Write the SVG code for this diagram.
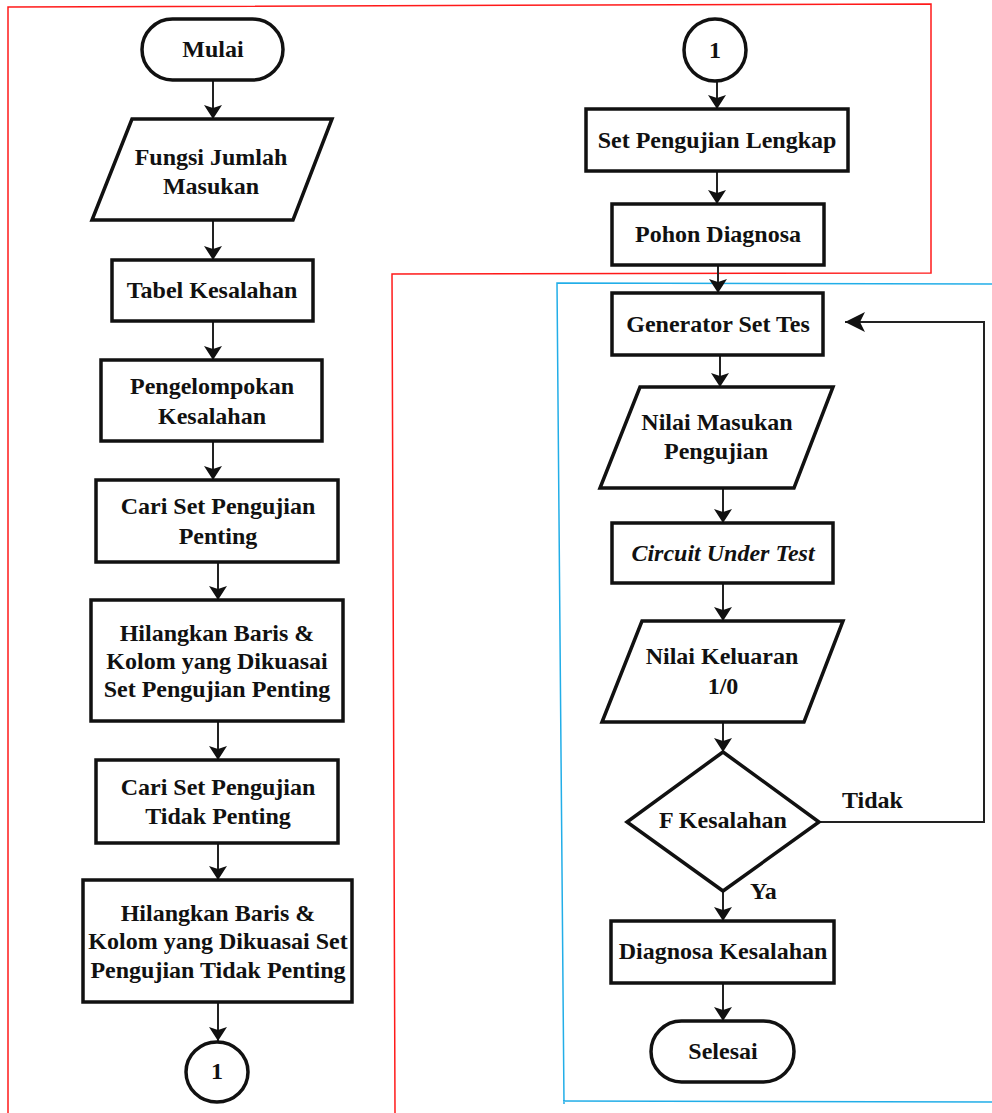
<svg xmlns="http://www.w3.org/2000/svg" width="992" height="1113" viewBox="0 0 992 1113">
  <style>
    .shape { fill: #fff; stroke: #111; stroke-width: 3.5; stroke-linejoin: miter; }
    .lbl { font-family: "Liberation Serif", "DejaVu Serif", serif; font-weight: 700; font-size: 24px; fill: #111; text-anchor: middle; }
    .it { font-style: italic; }
    .start { text-anchor: start; }
    .link { fill: none; stroke: #222; stroke-width: 2; }
    .frame { fill: none; stroke-width: 1.5; }
  </style>
  <defs>
    <marker id="arrow" markerUnits="userSpaceOnUse" viewBox="0 0 14 18" refX="14" refY="9" markerWidth="14" markerHeight="18" orient="auto">
      <path d="M0,0 L14,9 L0,18 L3,9 z" fill="#111"/>
    </marker>
    <marker id="arrowBig" markerUnits="userSpaceOnUse" viewBox="0 0 20 20" refX="20" refY="10" markerWidth="20" markerHeight="20" orient="auto">
      <path d="M0,0 L20,10 L0,20 L5,10 z" fill="#111"/>
    </marker>
  </defs>

  <rect width="992" height="1113" fill="#fff"/>

  <!-- section frames -->
  <g id="frames">
    <path class="frame" stroke="#ff1a1a" d="M8,1113 V7 L931,4 V273 L392,274 L395,1113"/>
    <path class="frame" stroke="#22aee8" d="M992,284 L557,283 L564,1104 M563,1101 L992,1102"/>
  </g>

  <!-- connectors -->
  <g id="connectors">
    <path class="link" marker-end="url(#arrow)" d="M213,80 V119"/>
    <path class="link" marker-end="url(#arrow)" d="M213,220 V260"/>
    <path class="link" marker-end="url(#arrow)" d="M213,321 V360"/>
    <path class="link" marker-end="url(#arrow)" d="M213,441 V480"/>
    <path class="link" marker-end="url(#arrow)" d="M218,562 V600"/>
    <path class="link" marker-end="url(#arrow)" d="M218,721 V760"/>
    <path class="link" marker-end="url(#arrow)" d="M218,843 V880"/>
    <path class="link" marker-end="url(#arrow)" d="M218,1002 V1041"/>
    <path class="link" marker-end="url(#arrow)" d="M717,81 V109"/>
    <path class="link" marker-end="url(#arrow)" d="M717,171 V204"/>
    <path class="link" marker-end="url(#arrow)" d="M718,265 V293"/>
    <path class="link" marker-end="url(#arrow)" d="M720,355 V387"/>
    <path class="link" marker-end="url(#arrow)" d="M723,488 V523"/>
    <path class="link" marker-end="url(#arrow)" d="M723,583 V621"/>
    <path class="link" marker-end="url(#arrow)" d="M723,722 V752"/>
    <path class="link" marker-end="url(#arrow)" d="M723,891 V921"/>
    <path class="link" marker-end="url(#arrow)" d="M723,983 V1021"/>
    <path class="link" marker-end="url(#arrowBig)" d="M819,822 H984 V322 H845"/>
    <text class="lbl start" x="842" y="808">Tidak</text>
    <text class="lbl start" x="750" y="899">Ya</text>
  </g>

  <!-- left column -->
  <g id="mulai">
    <rect class="shape" x="142" y="19" width="141" height="61" rx="30.5"/>
    <text class="lbl" x="213" y="57">Mulai</text>
  </g>
  <g id="fungsi-jumlah-masukan">
    <polygon class="shape" points="132,119 332,119 293,220 92,220"/>
    <text class="lbl" x="211" y="165">Fungsi Jumlah</text>
    <text class="lbl" x="211" y="194">Masukan</text>
  </g>
  <g id="tabel-kesalahan">
    <rect class="shape" x="112" y="260" width="201" height="61"/>
    <text class="lbl" x="212" y="298">Tabel Kesalahan</text>
  </g>
  <g id="pengelompokan-kesalahan">
    <rect class="shape" x="101" y="360" width="221" height="81"/>
    <text class="lbl" x="212" y="394">Pengelompokan</text>
    <text class="lbl" x="212" y="424">Kesalahan</text>
  </g>
  <g id="cari-set-penting">
    <rect class="shape" x="96" y="480" width="242" height="82"/>
    <text class="lbl" x="218" y="514">Cari Set Pengujian</text>
    <text class="lbl" x="218" y="544">Penting</text>
  </g>
  <g id="hilangkan-penting">
    <rect class="shape" x="91" y="600" width="252" height="121"/>
    <text class="lbl" x="217" y="641">Hilangkan Baris &amp;</text>
    <text class="lbl" x="217" y="669">Kolom yang Dikuasai</text>
    <text class="lbl" x="217" y="697">Set Pengujian Penting</text>
  </g>
  <g id="cari-set-tidak-penting">
    <rect class="shape" x="96" y="760" width="242" height="83"/>
    <text class="lbl" x="218" y="795">Cari Set Pengujian</text>
    <text class="lbl" x="218" y="824">Tidak Penting</text>
  </g>
  <g id="hilangkan-tidak-penting">
    <rect class="shape" x="83" y="880" width="269" height="122"/>
    <text class="lbl" x="218" y="921">Hilangkan Baris &amp;</text>
    <text class="lbl" x="218" y="949">Kolom yang Dikuasai Set</text>
    <text class="lbl" x="218" y="978">Pengujian Tidak Penting</text>
  </g>
  <g id="konektor-1-bawah">
    <ellipse class="shape" cx="217" cy="1072" rx="31" ry="30"/>
    <text class="lbl" x="217" y="1079">1</text>
  </g>

  <!-- right column -->
  <g id="konektor-1-atas">
    <ellipse class="shape" cx="715" cy="50" rx="31" ry="31"/>
    <text class="lbl" x="715" y="58">1</text>
  </g>
  <g id="set-pengujian-lengkap">
    <rect class="shape" x="586" y="109" width="262" height="62"/>
    <text class="lbl" x="717" y="148">Set Pengujian Lengkap</text>
  </g>
  <g id="pohon-diagnosa">
    <rect class="shape" x="612" y="204" width="212" height="61"/>
    <text class="lbl" x="718" y="242">Pohon Diagnosa</text>
  </g>
  <g id="generator-set-tes">
    <rect class="shape" x="612" y="293" width="211" height="62"/>
    <text class="lbl" x="718" y="332">Generator Set Tes</text>
  </g>
  <g id="nilai-masukan-pengujian">
    <polygon class="shape" points="640,387 833,387 794,488 600,488"/>
    <text class="lbl" x="717" y="430">Nilai Masukan</text>
    <text class="lbl" x="716" y="459">Pengujian</text>
  </g>
  <g id="circuit-under-test">
    <rect class="shape" x="612" y="523" width="221" height="60"/>
    <text class="lbl it" x="723" y="561">Circuit Under Test</text>
  </g>
  <g id="nilai-keluaran">
    <polygon class="shape" points="642,621 843,621 804,722 602,722"/>
    <text class="lbl" x="722" y="664">Nilai Keluaran</text>
    <text class="lbl" x="723" y="694">1/0</text>
  </g>
  <g id="f-kesalahan">
    <polygon class="shape" points="723,752 819,822 723,891 627,822"/>
    <text class="lbl" x="723" y="828">F Kesalahan</text>
  </g>
  <g id="diagnosa-kesalahan">
    <rect class="shape" x="611" y="921" width="223" height="62"/>
    <text class="lbl" x="723" y="959">Diagnosa Kesalahan</text>
  </g>
  <g id="selesai">
    <rect class="shape" x="651" y="1021" width="143" height="61" rx="30.5"/>
    <text class="lbl" x="723" y="1059">Selesai</text>
  </g>
</svg>
